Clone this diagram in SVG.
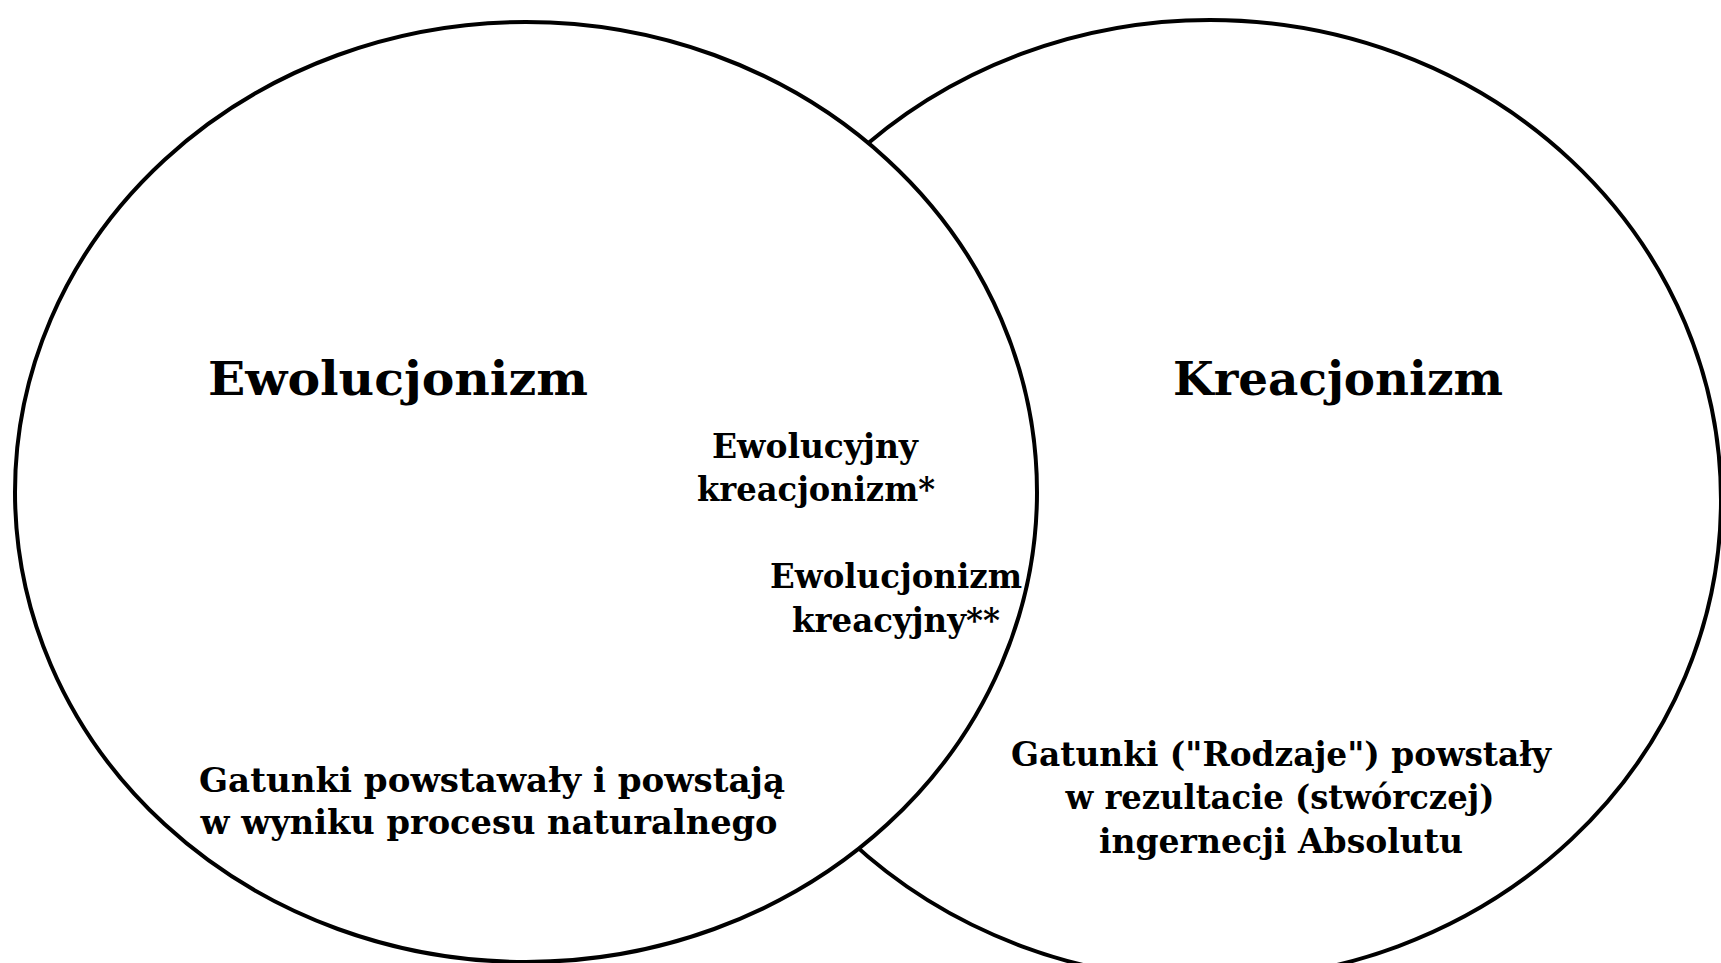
<svg xmlns="http://www.w3.org/2000/svg" width="1721" height="963" viewBox="0 0 1721 963">
  <style>
    .bg { fill: #ffffff; }
    .set { fill: #ffffff; stroke: #000000; stroke-width: 4; }
    .title { font-family: "DejaVu Serif", "Liberation Serif", serif; font-weight: bold; font-size: 46px; fill: #000000; text-anchor: middle; }
    .label { font-family: "DejaVu Serif", "Liberation Serif", serif; font-weight: bold; font-size: 33px; fill: #000000; text-anchor: middle; }
  </style>
  <rect class="bg" x="0" y="0" width="1721" height="963"/>
  <g id="kreacjonizm-set">
    <ellipse class="set" cx="1210" cy="500" rx="511" ry="480"/>
  </g>
  <g id="ewolucjonizm-set">
    <ellipse class="set" cx="526" cy="492" rx="511" ry="470"/>
  </g>
  <g id="ewolucjonizm-labels">
    <text class="title" x="398" y="395" textLength="380" lengthAdjust="spacingAndGlyphs">Ewolucjonizm</text>
    <text class="label" x="492" y="792" textLength="586" lengthAdjust="spacingAndGlyphs">Gatunki powstawały i powstają</text>
    <text class="label" x="489" y="834" textLength="577" lengthAdjust="spacingAndGlyphs">w wyniku procesu naturalnego</text>
  </g>
  <g id="ewolucyjny-kreacjonizm">
    <text class="label" x="815" y="458" textLength="206" lengthAdjust="spacingAndGlyphs">Ewolucyjny</text>
    <text class="label" x="816" y="501" textLength="238" lengthAdjust="spacingAndGlyphs">kreacjonizm*</text>
  </g>
  <g id="ewolucjonizm-kreacyjny">
    <text class="label" x="896" y="588" textLength="252" lengthAdjust="spacingAndGlyphs">Ewolucjonizm</text>
    <text class="label" x="896" y="632" textLength="208" lengthAdjust="spacingAndGlyphs">kreacyjny**</text>
  </g>
  <g id="kreacjonizm-labels">
    <text class="title" x="1338" y="395" textLength="330" lengthAdjust="spacingAndGlyphs">Kreacjonizm</text>
    <text class="label" x="1281" y="766" textLength="540" lengthAdjust="spacingAndGlyphs">Gatunki ("Rodzaje") powstały</text>
    <text class="label" x="1280" y="809" textLength="429" lengthAdjust="spacingAndGlyphs">w rezultacie (stwórczej)</text>
    <text class="label" x="1281" y="853" textLength="364" lengthAdjust="spacingAndGlyphs">ingernecji Absolutu</text>
  </g>
  <g id="connectors"></g>
</svg>
